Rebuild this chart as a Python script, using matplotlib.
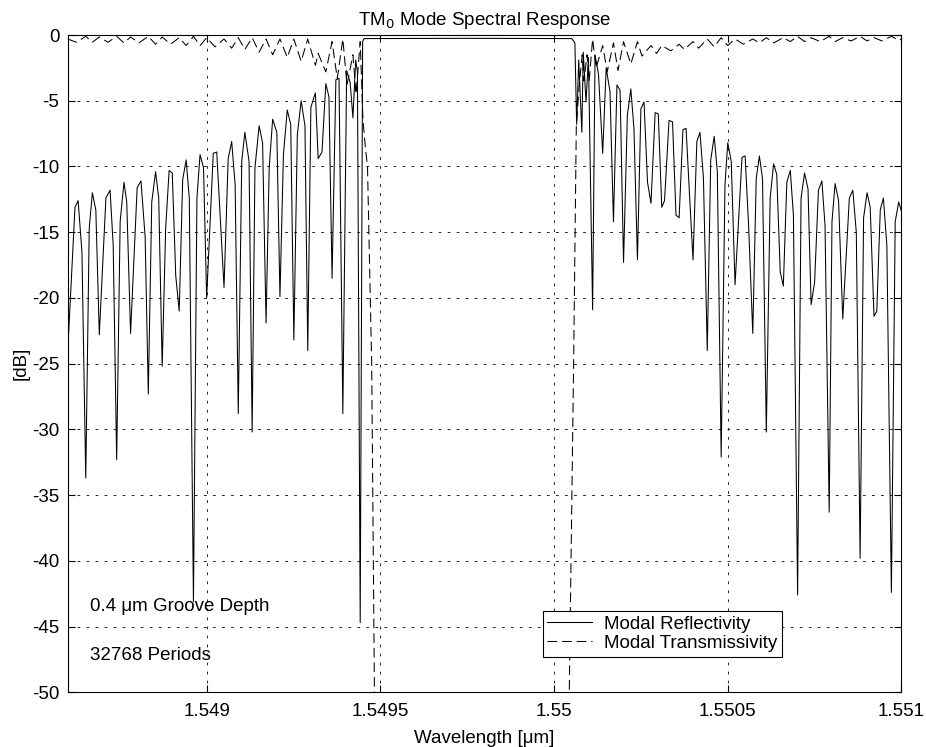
import matplotlib
matplotlib.use("Agg")
import matplotlib.pyplot as plt
from matplotlib.ticker import FixedLocator, FixedFormatter

plt.rcParams['font.family'] = ['Liberation Sans', 'DejaVu Sans']
plt.rcParams['axes.unicode_minus'] = False
plt.rcParams['lines.scale_dashes'] = False

# Modal reflectivity [dB] vs wavelength [um]
refl_wl = [
    1.548601, 1.548621, 1.548630, 1.548641, 1.548652, 1.548662, 1.548671, 1.548681,
    1.548691, 1.548710, 1.548722, 1.548731, 1.548741, 1.548751, 1.548762, 1.548770,
    1.548781, 1.548800, 1.548811, 1.548823, 1.548832, 1.548842, 1.548853, 1.548862,
    1.548872, 1.548882, 1.548892, 1.548901, 1.548911, 1.548921, 1.548931, 1.548941,
    1.548950, 1.548962, 1.548972, 1.548981, 1.548991, 1.549000, 1.549019, 1.549029,
    1.549050, 1.549062, 1.549072, 1.549082, 1.549091, 1.549101, 1.549110, 1.549122,
    1.549131, 1.549139, 1.549151, 1.549161, 1.549171, 1.549180, 1.549190, 1.549202,
    1.549211, 1.549221, 1.549232, 1.549242, 1.549251, 1.549261, 1.549272, 1.549283,
    1.549291, 1.549300, 1.549313, 1.549321, 1.549332, 1.549343, 1.549352, 1.549361,
    1.549372, 1.549381, 1.549392, 1.549403, 1.549413, 1.549421, 1.549429, 1.549434,
    1.549442, 1.549449, 1.549453, 1.549750, 1.550051, 1.550060, 1.550065, 1.550071,
    1.550080, 1.550084, 1.550092, 1.550099, 1.550111, 1.550118, 1.550128, 1.550140,
    1.550150, 1.550161, 1.550171, 1.550181, 1.550190, 1.550200, 1.550211, 1.550221,
    1.550230, 1.550240, 1.550250, 1.550259, 1.550269, 1.550279, 1.550291, 1.550300,
    1.550310, 1.550318, 1.550331, 1.550341, 1.550351, 1.550360, 1.550371, 1.550380,
    1.550390, 1.550400, 1.550411, 1.550420, 1.550430, 1.550441, 1.550451, 1.550461,
    1.550470, 1.550481, 1.550492, 1.550500, 1.550510, 1.550521, 1.550541, 1.550550,
    1.550560, 1.550572, 1.550582, 1.550591, 1.550600, 1.550611, 1.550622, 1.550632,
    1.550641, 1.550651, 1.550660, 1.550670, 1.550680, 1.550689, 1.550701, 1.550711,
    1.550721, 1.550731, 1.550740, 1.550750, 1.550761, 1.550771, 1.550780, 1.550792,
    1.550800, 1.550809, 1.550819, 1.550831, 1.550850, 1.550860, 1.550870, 1.550881,
    1.550891, 1.550901, 1.550910, 1.550921, 1.550929, 1.550939, 1.550948, 1.550958,
    1.550971, 1.550982, 1.550992, 1.551000,
]
refl_db = [
    -23.6, -13.1, -12.6, -16.5, -33.7, -14.7, -12.0, -13.3,
    -22.8, -12.4, -11.8, -16.0, -32.3, -14.2, -11.2, -12.7,
    -22.7, -11.6, -11.1, -15.4, -27.3, -12.7, -10.4, -12.4,
    -25.2, -14.7, -10.3, -10.5, -18.3, -21.0, -11.0, -9.5,
    -12.4, -43.1, -12.4, -9.1, -10.1, -20.0, -9.0, -8.9,
    -19.2, -9.4, -8.1, -11.4, -28.8, -9.6, -7.4, -9.6,
    -30.2, -10.1, -6.9, -8.2, -21.9, -10.1, -6.4, -7.4,
    -19.9, -9.1, -5.7, -6.8, -23.2, -7.6, -5.0, -6.9,
    -24.0, -5.5, -4.4, -9.4, -8.9, -3.7, -4.7, -18.5,
    -3.4, -3.3, -28.8, -2.7, -3.6, -6.3, -1.9, -2.8,
    -44.7, -0.5, -0.27, -0.25, -0.27, -0.6, -6.8, -1.9,
    -7.4, -1.3, -5.1, -1.7, -20.9, -1.5, -3.0, -9.0,
    -2.5, -4.3, -14.2, -3.8, -4.2, -17.3, -6.1, -4.1,
    -7.1, -17.1, -5.6, -5.1, -11.2, -12.8, -5.9, -6.0,
    -13.1, -12.6, -6.5, -6.6, -13.7, -13.9, -7.2, -7.1,
    -12.2, -17.1, -8.1, -7.4, -10.9, -24.0, -9.5, -7.7,
    -10.4, -32.1, -11.4, -8.2, -9.6, -19.0, -9.3, -9.2,
    -14.5, -22.7, -10.9, -9.2, -10.9, -30.2, -12.4, -9.8,
    -10.6, -18.0, -19.1, -11.2, -10.3, -13.7, -42.6, -12.4,
    -10.5, -11.7, -20.5, -18.8, -11.8, -11.1, -14.5, -36.3,
    -14.2, -11.3, -12.6, -21.6, -12.4, -11.8, -15.0, -39.8,
    -13.9, -12.0, -13.1, -21.4, -21.0, -13.3, -12.4, -16.0,
    -42.4, -14.2, -12.7, -13.4,
]

# Modal transmissivity [dB] vs wavelength [um]
trans_wl = [
    1.548600, 1.548625, 1.548652, 1.548671, 1.548691, 1.548716, 1.548741, 1.548762,
    1.548781, 1.548805, 1.548832, 1.548853, 1.548872, 1.548896, 1.548921, 1.548941,
    1.548962, 1.548981, 1.549000, 1.549024, 1.549050, 1.549072, 1.549091, 1.549110,
    1.549131, 1.549151, 1.549171, 1.549190, 1.549211, 1.549232, 1.549251, 1.549272,
    1.549291, 1.549313, 1.549321, 1.549343, 1.549361, 1.549376, 1.549392, 1.549404,
    1.549421, 1.549430, 1.549442, 1.549450, 1.549457, 1.549463, 1.549475, 1.549483,
    1.549489, 1.549750, 1.550036, 1.550044, 1.550056, 1.550064, 1.550072, 1.550081,
    1.550086, 1.550095, 1.550101, 1.550111, 1.550121, 1.550140, 1.550153, 1.550171,
    1.550184, 1.550200, 1.550221, 1.550240, 1.550253, 1.550279, 1.550295, 1.550310,
    1.550336, 1.550360, 1.550375, 1.550400, 1.550416, 1.550441, 1.550461, 1.550481,
    1.550500, 1.550521, 1.550545, 1.550572, 1.550591, 1.550611, 1.550632, 1.550660,
    1.550680, 1.550701, 1.550721, 1.550740, 1.550766, 1.550792, 1.550809, 1.550831,
    1.550855, 1.550881, 1.550901, 1.550921, 1.550944, 1.550971, 1.550992, 1.551000,
]
trans_db = [
    -0.3, -0.55, -0.1, -0.55, -0.15, -0.55, -0.1, -0.6,
    -0.15, -0.6, -0.1, -0.7, -0.15, -0.7, -0.2, -0.8,
    -0.1, -0.8, -0.2, -0.9, -0.3, -1.0, -0.2, -1.1,
    -0.2, -1.3, -0.3, -1.5, -0.3, -1.7, -0.3, -2.0,
    -0.3, -2.3, -1.4, -2.8, -0.5, -3.3, -0.3, -3.8,
    -1.5, -4.5, -0.5, -6.5, -8.6, -10.0, -25.0, -50.0,
    -80.0, -110.0, -80.0, -49.6, -25.7, -7.0, -4.0, -1.5,
    -3.5, -1.5, -3.5, -0.3, -2.5, -0.8, -2.8, -0.6,
    -2.7, -0.5, -2.2, -0.5, -1.6, -0.8, -1.4, -0.8,
    -1.2, -0.7, -1.1, -0.5, -1.0, -0.3, -0.9, -0.2,
    -0.8, -0.3, -0.7, -0.3, -0.6, -0.2, -0.6, -0.2,
    -0.5, -0.1, -0.5, -0.2, -0.5, -0.1, -0.5, -0.2,
    -0.45, -0.1, -0.45, -0.2, -0.45, -0.1, -0.4, -0.3,
]

x_ticks = [1.549, 1.5495, 1.55, 1.5505, 1.551]
x_tick_labels = ['1.549', '1.5495', '1.55', '1.5505', '1.551']
y_ticks = [0, -5, -10, -15, -20, -25, -30, -35, -40, -45, -50]
y_tick_labels = ['0', '-5', '-10', '-15', '-20', '-25', '-30', '-35', '-40', '-45', '-50']

FS = 13.5

fig = plt.figure(figsize=(9.26, 7.47), dpi=100)
ax = fig.add_axes([0.0731, 0.0732, 0.9004, 0.8799])

ax.plot(refl_wl, refl_db, color='black', lw=0.75, label='Modal Reflectivity')
ax.plot(trans_wl, trans_db, color='black', lw=0.75, dashes=(7, 3.5),
        label='Modal Transmissivity')

ax.set_xlim(1.5486, 1.551)
ax.set_ylim(-50, 0)

ax.xaxis.set_major_locator(FixedLocator(x_ticks))
ax.xaxis.set_major_formatter(FixedFormatter(x_tick_labels))
ax.yaxis.set_major_locator(FixedLocator(y_ticks))
ax.yaxis.set_major_formatter(FixedFormatter(y_tick_labels))

ax.tick_params(direction='in', length=5, width=0.8, top=True, right=True,
               labelsize=FS)
ax.tick_params(axis='x', pad=8)
ax.tick_params(axis='y', pad=6)
for sp in ax.spines.values():
    sp.set_linewidth(0.8)

ax.grid(True, color='black', lw=0.6, dashes=(2, 4.5))

ax.set_title('TM$_0$ Mode Spectral Response', fontsize=FS, pad=7)
ax.set_xlabel('Wavelength [\u03bcm]', fontsize=FS, labelpad=7)
ax.set_ylabel('[dB]', fontsize=FS, labelpad=2)

ax.text(1.548664, -43.5, '0.4 \u03bcm Groove Depth', fontsize=FS, va='center', ha='left')
ax.text(1.548664, -47.2, '32768 Periods', fontsize=FS, va='center', ha='left')

leg = ax.legend(loc='lower left', bbox_to_anchor=(0.5697, 0.0542), borderaxespad=0,
                fancybox=False, framealpha=1, edgecolor='black', fontsize=FS,
                handlelength=2.4, borderpad=0.25, labelspacing=0.12, handletextpad=0.6)
leg.get_frame().set_linewidth(0.8)

fig.savefig('out.png', dpi=100)
